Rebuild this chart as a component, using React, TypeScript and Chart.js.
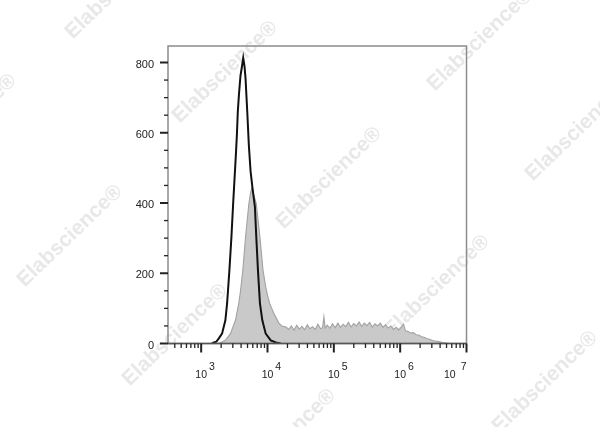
import React, { useEffect, useRef } from 'react';
import { Chart, registerables } from 'chart.js';

Chart.register(...registerables);

// Control (black outline) histogram: fluorescence intensity and event counts
const blackX = [1445, 1521, 1690, 1833, 2065, 2317, 2459, 2666, 2858, 3034, 3206, 3342, 3467, 3565, 3715, 3917, 4093, 4305, 4498, 4667, 4955, 5236, 5559, 5957, 6457, 6776, 7178, 7691, 8356, 9397, 11194, 13335, 15849];
const blackY = [0, 2, 5, 14, 28, 66, 114, 209, 303, 398, 479, 540, 600, 659, 710, 763, 785, 813, 790, 754, 659, 564, 490, 440, 390, 303, 209, 114, 66, 28, 9, 3, 0];

// Stained sample (grey filled) histogram
const grayX = [1811, 1945, 2317, 2761, 3289, 3690, 3917, 4246, 4667, 5236, 5559, 5902, 6166, 6776, 7228, 7691, 8551, 9397, 10069, 10789, 11588, 12560, 13804, 14962, 16444,
  19055, 20893, 22909, 25119, 27542, 30200, 33113, 36308, 39811, 43652, 47863, 52481, 57544, 63096, 67608, 70795, 74131, 79433, 87096, 95499,
  104713, 114815, 125893, 138038, 151356, 165959, 181970, 199526, 218776, 239883, 263027, 288403, 316228, 346737, 380189, 416869, 457088, 501187, 549541, 602560, 660693, 724436, 794328, 870964, 954993,
  1047129, 1122018, 1202264, 1318257, 1445440, 1584893, 1737801, 1905461, 2089296, 2290868, 2511886, 2754229, 3019952, 3311311, 3630781, 3981072, 4365158, 5011872, 5754399];
const grayY = [0, 2, 9, 28, 66, 114, 150, 209, 303, 398, 430, 446, 425, 398, 350, 303, 209, 161, 135, 114, 100, 85, 70, 57, 50,
  47, 40, 50, 38, 52, 41, 49, 39, 53, 42, 48, 40, 55, 42, 45, 76, 44, 52, 43, 56,
  45, 58, 46, 55, 48, 60, 47, 57, 50, 61, 49, 58, 51, 60, 47, 56, 50, 58, 46, 53, 44, 50, 40, 46, 38,
  48, 55, 36, 34, 30, 31, 25, 24, 19, 18, 14, 12, 9, 7, 6, 5, 3, 1, 0];

// Axes
const yTickValues = [0, 50, 100, 150, 200, 250, 300, 350, 400, 450, 500, 550, 600, 650, 700, 750, 800];
const yLabelValues = [0, 200, 400, 600, 800];
const xMajorTicks = [1e3, 1e4, 1e5, 1e6, 1e7];
const xMajorExponents = ['3', '4', '5', '6', '7'];
const xMinorTicks = [400, 500, 600, 700, 800, 900,
  2000, 3000, 4000, 5000, 6000, 7000, 8000, 9000,
  20000, 30000, 40000, 50000, 60000, 70000, 80000, 90000,
  200000, 300000, 400000, 500000, 600000, 700000, 800000, 900000,
  2000000, 3000000, 4000000, 5000000, 6000000, 7000000, 8000000, 9000000];
const xMin = 316.23;
const xMax = 1e7;
const yMax = 847;

const watermarkText = 'Elabscience®';
const watermarkCenters: [number, number][] = [
  [118, -12], [225, 72], [329, 178], [437, 286], [545, 382],
  [-36, 125], [70, 236], [175, 335], [283, 440],
  [480, 40], [578, 130],
];

const FONT = "'Liberation Sans', Arial, sans-serif";

const decoPlugin = {
  id: 'deco',
  beforeDraw(chart: any) {
    const ctx = chart.ctx;
    ctx.save();
    ctx.fillStyle = '#e8e8e8';
    ctx.font = `bold 21px ${FONT}`;
    ctx.textAlign = 'center';
    ctx.textBaseline = 'middle';
    for (const [cx, cy] of watermarkCenters) {
      ctx.save();
      ctx.translate(cx, cy);
      ctx.rotate((-44 * Math.PI) / 180);
      ctx.fillText(watermarkText, 0, 0);
      ctx.restore();
    }
    ctx.restore();
  },
  afterDatasetsDraw(chart: any) {
    const ctx = chart.ctx;
    const { left, right, top, bottom } = chart.chartArea;
    const xs = chart.scales.x;
    const ys = chart.scales.y;
    ctx.save();
    // frame
    ctx.strokeStyle = '#8c8c8c';
    ctx.lineWidth = 1.5;
    ctx.strokeRect(left, top, right - left, bottom - top);
    ctx.strokeStyle = '#555';
    ctx.beginPath();
    ctx.moveTo(left, bottom);
    ctx.lineTo(right, bottom);
    ctx.stroke();

    ctx.strokeStyle = '#222';
    // y ticks
    for (const v of yTickValues) {
      const py = ys.getPixelForValue(v);
      const major = yLabelValues.includes(v);
      ctx.lineWidth = major ? 2 : 1.3;
      ctx.beginPath();
      ctx.moveTo(left - (major ? 8 : 4), py);
      ctx.lineTo(left, py);
      ctx.stroke();
    }
    // x ticks
    for (const v of xMinorTicks) {
      const px = xs.getPixelForValue(v);
      ctx.lineWidth = 1.3;
      ctx.beginPath();
      ctx.moveTo(px, bottom);
      ctx.lineTo(px, bottom + 4.5);
      ctx.stroke();
    }
    for (const v of xMajorTicks) {
      const px = xs.getPixelForValue(v);
      ctx.lineWidth = 2;
      ctx.beginPath();
      ctx.moveTo(px, bottom);
      ctx.lineTo(px, bottom + 9);
      ctx.stroke();
    }
    // x labels 10^n
    ctx.fillStyle = '#222';
    ctx.font = `10.5px ${FONT}`;
    ctx.textBaseline = 'alphabetic';
    ctx.textAlign = 'left';
    xMajorTicks.forEach((v, i) => {
      const px = xs.getPixelForValue(v);
      const e = xMajorExponents[i];
      const w10 = ctx.measureText('10').width;
      const wE = ctx.measureText(e).width;
      let x10: number;
      let xE: number;
      if (px >= right - 1) {
        xE = px - wE;
        x10 = xE - 5 - w10;
      } else {
        x10 = px - w10 / 2;
        xE = x10 + w10 + 2;
      }
      ctx.fillText('10', x10, bottom + 34.5);
      ctx.fillText(e, xE, bottom + 26);
    });
    ctx.restore();
  },
};

export default function App() {
  const canvasRef = useRef<HTMLCanvasElement | null>(null);

  useEffect(() => {
    const canvas = canvasRef.current;
    if (!canvas) return;
    const chart = new Chart(canvas, {
      type: 'line',
      data: {
        datasets: [
          {
            label: 'Control',
            data: blackX.map((x, i) => ({ x, y: blackY[i] })),
            borderColor: '#111111',
            borderWidth: 2,
            fill: false,
            pointRadius: 0,
            tension: 0,
            order: 0,
          },
          {
            label: 'Sample',
            data: grayX.map((x, i) => ({ x, y: grayY[i] })),
            borderColor: '#a2a2a2',
            backgroundColor: '#c9c9c9',
            borderWidth: 1.1,
            fill: 'origin',
            pointRadius: 0,
            tension: 0,
            order: 1,
          },
        ],
      },
      options: {
        responsive: false,
        animation: false,
        layout: { padding: { left: 0, top: 46, right: 133.5, bottom: 0 } },
        plugins: {
          legend: { display: false },
          tooltip: { enabled: false },
        },
        scales: {
          x: {
            type: 'logarithmic',
            min: xMin,
            max: xMax,
            grid: { display: false },
            border: { display: false },
            ticks: { display: false },
            afterFit: (scale: any) => {
              scale.height = 83.5;
            },
          },
          y: {
            type: 'linear',
            min: 0,
            max: yMax,
            grid: { display: false, drawTicks: false },
            border: { display: false },
            afterBuildTicks: (scale: any) => {
              scale.ticks = yTickValues.map((v) => ({ value: v }));
            },
            ticks: {
              autoSkip: false,
              padding: 14,
              labelOffset: 2,
              color: '#222',
              font: { family: FONT, size: 11 },
              callback: (v: any) => (yLabelValues.includes(Number(v)) ? String(v) : ''),
            },
            afterFit: (scale: any) => {
              scale.width = 168;
            },
          },
        },
      },
      plugins: [decoPlugin],
    } as any);
    return () => chart.destroy();
  }, []);

  return (
    <div style={{ position: 'fixed', left: 0, top: 0, width: 600, height: 427, background: '#fff' }}>
      <canvas ref={canvasRef} width={600} height={427} style={{ display: 'block' }} />
    </div>
  );
}
